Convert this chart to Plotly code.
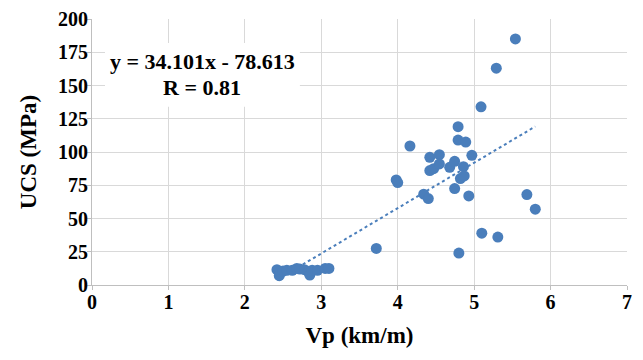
import plotly.graph_objects as go

vp = [2.42, 2.45, 2.50, 2.55, 2.62, 2.68, 2.72, 2.78, 2.83, 2.85, 2.88, 2.95, 3.05, 3.10,
      3.72, 3.98, 4.00, 4.16, 4.34, 4.40, 4.42, 4.42, 4.47, 4.545, 4.545, 4.68, 4.745, 4.745,
      4.79, 4.79, 4.80, 4.82, 4.86, 4.87, 4.89, 4.93, 4.97, 5.09, 5.10, 5.29, 5.31, 5.54,
      5.69, 5.80]
ucs = [11.5, 7.0, 10.5, 11.0, 11.0, 12.5, 12.0, 11.5, 10.0, 7.5, 11.0, 11.0, 12.5, 12.5,
       27.5, 79.0, 77.0, 104.5, 68.3, 65.0, 96.0, 86.0, 87.5, 98.0, 91.0, 88.5, 93.0, 72.5,
       119.0, 109.0, 24.0, 80.0, 89.0, 82.0, 107.5, 67.0, 97.5, 134.0, 39.0, 163.0, 36.0, 185.0,
       68.0, 57.0]
slope = 34.101
intercept = -78.613
r_value = 0.81
x_ticks = [0, 1, 2, 3, 4, 5, 6, 7]
y_ticks = [0, 25, 50, 75, 100, 125, 150, 175, 200]

blue = "#4A7EBB"
font_family = "Liberation Serif, Times New Roman, serif"

x_line = [min(vp), max(vp)]
y_line = [slope * x + intercept for x in x_line]

fig = go.Figure()
fig.add_trace(go.Scatter(x=x_line, y=y_line, mode="lines",
                         line=dict(color=blue, width=2, dash="dot"),
                         hoverinfo="skip", showlegend=False))
fig.add_trace(go.Scatter(x=vp, y=ucs, mode="markers",
                         marker=dict(color=blue, size=11, line=dict(width=0)),
                         showlegend=False))

# white label box over the gridlines
fig.add_shape(type="rect", xref="x", yref="y", x0=0.17, x1=2.72, y0=134, y1=182,
              fillcolor="#FFFFFF", line=dict(width=0), layer="above")
fig.add_annotation(x=1.44, y=168.0, xref="x", yref="y",
                   text=f"<b>y = {slope:.3f}x - {abs(intercept):.3f}</b>",
                   showarrow=False, borderpad=0,
                   font=dict(family=font_family, size=22, color="#000000"))
fig.add_annotation(x=1.44, y=148.5, xref="x", yref="y",
                   text=f"<b>R = {r_value:.2f}</b>",
                   showarrow=False, borderpad=0,
                   font=dict(family=font_family, size=22, color="#000000"))

# page body has an 8px default margin, so the figure is sized to fit the window
fig.update_layout(
    width=635, height=352,
    margin=dict(l=84, r=16, t=11, b=75, autoexpand=False),
    paper_bgcolor="white", plot_bgcolor="white",
    font=dict(family=font_family, size=20, color="#000000"),
    showlegend=False,
)
fig.update_xaxes(range=[0, 7], tickvals=x_ticks, showgrid=True, gridcolor="#D9D9D9", gridwidth=1,
                 zeroline=False, showline=True, linecolor="#BFBFBF", linewidth=1,
                 ticks="outside", ticklen=4, tickcolor="#BFBFBF", automargin=False,
                 ticklabelstandoff=-5,
                 tickfont=dict(family=font_family, size=20, color="#000000", weight="bold"),
                 title=dict(text="<b>Vp (km/m)</b>", font=dict(family=font_family, size=23), standoff=14))
fig.update_yaxes(range=[0, 200], tickvals=y_ticks, showgrid=True, gridcolor="#D9D9D9", gridwidth=1,
                 zeroline=False, showline=True, linecolor="#BFBFBF", linewidth=1,
                 ticks="outside", ticklen=4, tickcolor="#BFBFBF", automargin=False,
                 ticklabelstandoff=-5,
                 tickfont=dict(family=font_family, size=20, color="#000000", weight="bold"),
                 title=dict(text="<b>UCS (MPa)</b>", font=dict(family=font_family, size=23), standoff=14))

fig.write_html("out.html")
